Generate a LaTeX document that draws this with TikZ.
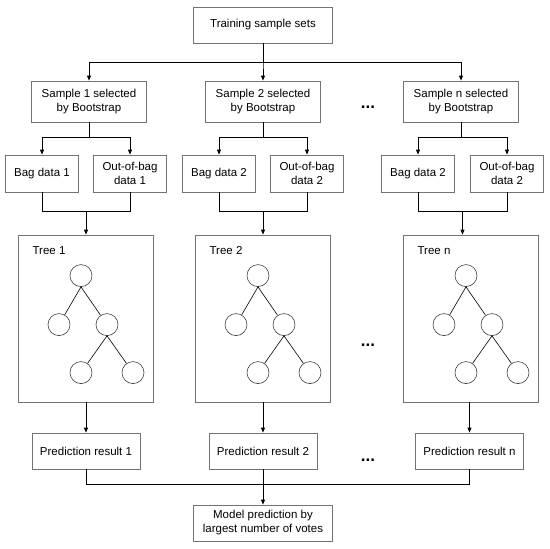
\documentclass[tikz,border=0pt]{standalone}
\usepackage{fontspec}
\setmainfont{Liberation Sans}
\usepackage{xcolor}
\usepackage{tikz}
\usetikzlibrary{arrows.meta}

\begin{document}
\begin{tikzpicture}[
    x=1pt, y=-1pt,
    font=\fontsize{11.5}{14}\selectfont,
    box/.style={rectangle, draw=black!55, line width=0.8pt, fill=white, align=center, inner sep=1pt},
    bigbox/.style={box, minimum width=139pt, minimum height=36pt},
    sampbox/.style={box, minimum width=115pt, minimum height=41pt},
    bagbox/.style={box, minimum width=72.6pt, minimum height=37pt},
    treebox/.style={box, minimum width=134.4pt, minimum height=167pt},
    predbox/.style={box, minimum width=108pt, minimum height=36pt},
    leaf/.style={circle, draw=black!75, line width=0.6pt, minimum size=22pt, inner sep=0pt},
    dots/.style={anchor=base, inner sep=0pt, font=\fontsize{17}{18}\selectfont\bfseries},
    line/.style={line width=0.8pt},
    arrow/.style={line, -{Triangle[length=5pt, width=4pt]}}
]
\useasboundingbox (0,0) rectangle (550,549);

\node[bigbox] (train) at (263,25) {Training sample sets};

\node[sampbox] (samp1) at (89,101.5) {Sample 1 selected\\by Bootstrap};
\node[sampbox] (samp2) at (263,101.5) {Sample 2 selected\\by Bootstrap};
\node[sampbox] (sampn) at (461,101.5) {Sample n selected\\by Bootstrap};
\node[dots] (dots1) at (368,108.5) {...};

\node[bagbox] (bag1) at (42,173.5) {Bag data 1};
\node[bagbox] (oob1) at (130,173.5) {Out-of-bag\\data 1};
\node[bagbox] (bag2) at (219,173.5) {Bag data 2};
\node[bagbox] (oob2) at (307,173.5) {Out-of-bag\\data 2};
\node[bagbox] (bagn) at (418,173.5) {Bag data 2};
\node[bagbox] (oobn) at (507,173.5) {Out-of-bag\\data 2};

\node[treebox] (tree1) at (86,318.5) {};
\node[treebox] (tree2) at (263,318.5) {};
\node[treebox] (treen) at (471,318.5) {};
\node[dots] (dots2) at (368,346.5) {...};

\node[predbox] (pred1) at (86,451) {Prediction result 1};
\node[predbox] (pred2) at (263,451) {Prediction result 2};
\node[predbox] (predn) at (469.5,451) {Prediction result n};
\node[dots] (dots3) at (368,461) {...};

\node[bigbox] (vote) at (263,523) {Model prediction by\\largest number of votes};

% trees inside the boxes
\foreach \t/\name in {1/Tree 1, 2/Tree 2, n/Tree n} {
    \node[anchor=west, inner sep=2pt] (lbl\t) at ([shift={(12,16)}]tree\t.north west) {\name};
    \node[leaf] (root\t) at ([shift={(-5,41)}]tree\t.north) {};
    \node[leaf] (left\t) at ([shift={(-27,90)}]tree\t.north) {};
    \node[leaf] (right\t) at ([shift={(21,90)}]tree\t.north) {};
    \node[leaf] (gleft\t) at ([shift={(-5,138)}]tree\t.north) {};
    \node[leaf] (gright\t) at ([shift={(47,138)}]tree\t.north) {};
    \draw[line width=0.6pt] (root\t.south) -- (left\t);
    \draw[line width=0.6pt] (root\t.south) -- (right\t);
    \draw[line width=0.6pt] (right\t.south) -- (gleft\t);
    \draw[line width=0.6pt] (right\t.south) -- (gright\t);
}

\draw[arrow] (train.south) -- ++(0,19) -| (samp1.north);
\draw[arrow] (train.south) -- ++(0,19) -| (samp2.north);
\draw[arrow] (train.south) -- ++(0,19) -| (sampn.north);

\draw[arrow] (samp1.south) -- ++(0,15) -| (bag1.north);
\draw[arrow] (samp1.south) -- ++(0,15) -| (oob1.north);
\draw[arrow] (samp2.south) -- ++(0,15) -| (bag2.north);
\draw[arrow] (samp2.south) -- ++(0,15) -| (oob2.north);
\draw[arrow] (sampn.south) -- ++(0,15) -| (bagn.north);
\draw[arrow] (sampn.south) -- ++(0,15) -| (oobn.north);

\draw[line] (bag1.south) -- ++(0,19) -| node[coordinate, pos=.25] (mid1) {} (oob1.south);
\draw[line] (bag2.south) -- ++(0,19) -| node[coordinate, pos=.25] (mid2) {} (oob2.south);
\draw[line] (bagn.south) -- ++(0,19) -| node[coordinate, pos=.25] (midn) {} (oobn.south);
\draw[arrow] (mid1) -- (mid1 |- tree1.north);
\draw[arrow] (mid2) -- (mid2 |- tree2.north);
\draw[arrow] (midn) -- (midn |- treen.north);

\draw[arrow] (pred1.north |- tree1.south) -- (pred1.north);
\draw[arrow] (pred2.north |- tree2.south) -- (pred2.north);
\draw[arrow] (predn.north |- treen.south) -- (predn.north);

\draw[line] (pred1.south) -- ++(0,15) -| (predn.south);
\draw[arrow] (pred2.south) -- (vote.north);
\end{tikzpicture}
\end{document}
